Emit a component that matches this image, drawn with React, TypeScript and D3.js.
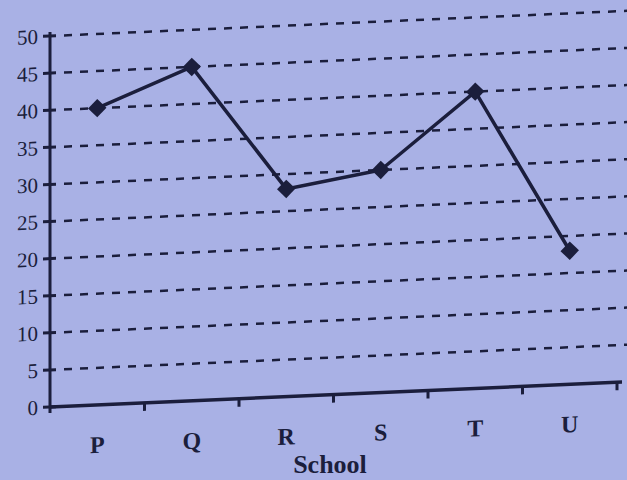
import React from "react";
import * as d3 from "d3";

const schools = ["P", "Q", "R", "S", "T", "U"];
const students = [40, 45, 28, 30, 40, 18];
const yTicks = [0, 5, 10, 15, 20, 25, 30, 35, 40, 45, 50];
const xTitle = "School";

const width = 627;
const height = 480;
const ink = "#1b1e3c";
const paper = "#a9b1e5";

const App = () => {
  const svgRef = React.useRef<SVGSVGElement>(null);

  React.useEffect(() => {
    const svg = d3.select(svgRef.current);
    svg.selectAll("*").remove();

    const x0 = 50;
    const y = d3.scaleLinear().domain([0, 50]).range([407, 36]);
    const x = d3.scaleBand().domain(schools).range([x0, 617]);

    svg.append("rect").attr("width", width).attr("height", height).attr("fill", paper);

    // the photo is tilted a bit, so the whole plot is sheared
    const g = svg.append("g")
      .attr("transform", `translate(${x0},0) skewY(-2.5) translate(${-x0},0)`);

    // dashed grid
    g.append("g")
      .selectAll("line")
      .data(yTicks.filter(d => d > 0))
      .join("line")
        .attr("x1", 64)
        .attr("x2", 660)
        .attr("y1", d => y(d))
        .attr("y2", d => y(d))
        .attr("stroke", ink)
        .attr("stroke-width", 2.5)
        .attr("stroke-dasharray", "8 8");

    // y axis
    g.append("line")
      .attr("x1", x0).attr("x2", x0)
      .attr("y1", y(50) - 4).attr("y2", y(0) + 6)
      .attr("stroke", ink).attr("stroke-width", 3);

    g.append("g")
      .selectAll("line")
      .data(yTicks)
      .join("line")
        .attr("x1", x0 - 7).attr("x2", x0 + 6)
        .attr("y1", d => y(d)).attr("y2", d => y(d))
        .attr("stroke", ink).attr("stroke-width", 3);

    g.append("g")
      .selectAll("text")
      .data(yTicks)
      .join("text")
        .attr("x", 38)
        .attr("y", d => y(d))
        .attr("dy", "0.35em")
        .attr("text-anchor", "end")
        .attr("font-family", "'Liberation Serif', serif")
        .attr("font-size", 21)
        .attr("fill", ink)
        .text(d => d);

    // x axis
    g.append("line")
      .attr("x1", x0).attr("x2", x.range()[1] + 5)
      .attr("y1", y(0)).attr("y2", y(0))
      .attr("stroke", ink).attr("stroke-width", 3.5);

    const bounds = schools.map(s => (x(s) as number) + x.bandwidth());
    g.append("g")
      .selectAll("line")
      .data(bounds)
      .join("line")
        .attr("x1", d => d).attr("x2", d => d)
        .attr("y1", y(0)).attr("y2", y(0) + 8)
        .attr("stroke", ink).attr("stroke-width", 3);

    g.append("g")
      .selectAll("text")
      .data(schools)
      .join("text")
        .attr("x", d => (x(d) as number) + x.bandwidth() / 2)
        .attr("y", 455)
        .attr("text-anchor", "middle")
        .attr("font-family", "'Liberation Serif', serif")
        .attr("font-weight", "bold")
        .attr("font-size", 24)
        .attr("fill", ink)
        .text(d => d);

    // line + diamond markers
    const pts = schools.map((s, i) => [(x(s) as number) + x.bandwidth() / 2, y(students[i])] as [number, number]);
    g.append("path")
      .attr("d", d3.line()(pts))
      .attr("fill", "none")
      .attr("stroke", ink)
      .attr("stroke-width", 3.5)
      .attr("stroke-linejoin", "round");

    g.append("g")
      .selectAll("path")
      .data(pts)
      .join("path")
        .attr("transform", d => `translate(${d[0]},${d[1]}) rotate(45)`)
        .attr("d", d3.symbol(d3.symbolSquare, 170)())
        .attr("fill", ink);

    svg.append("text")
      .attr("x", 330)
      .attr("y", 473)
      .attr("text-anchor", "middle")
      .attr("font-family", "'Liberation Serif', serif")
      .attr("font-weight", "bold")
      .attr("font-size", 26)
      .attr("fill", ink)
      .text(xTitle);
  }, []);

  return (
    <svg
      ref={svgRef}
      width={width}
      height={height}
      style={{ position: "absolute", left: 0, top: 0, display: "block" }}
    ></svg>
  );
};

export default App;
